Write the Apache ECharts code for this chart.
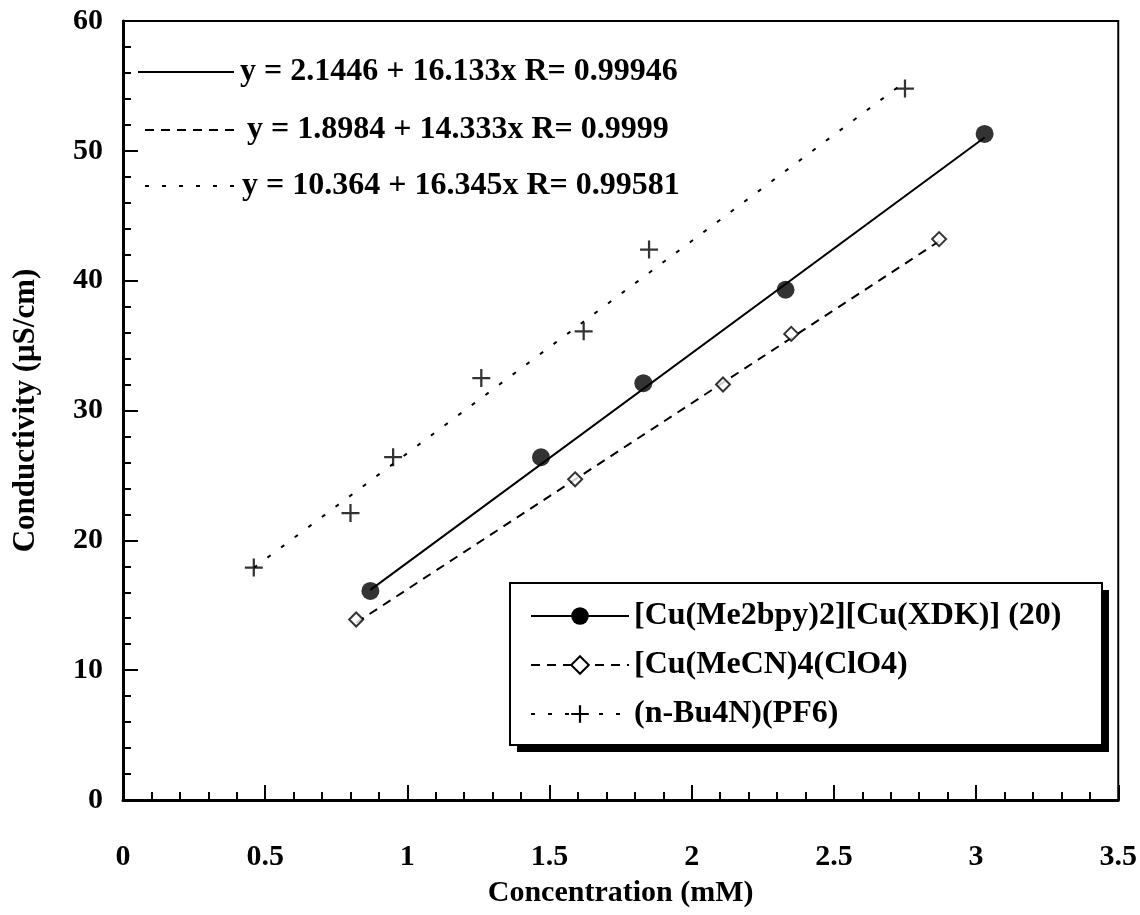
<!DOCTYPE html>
<html>
<head>
<meta charset="utf-8">
<script src="https://cdn.jsdelivr.net/npm/echarts@6/dist/echarts.min.js"></script>
<style>
html,body{margin:0;padding:0;background:#fff;}
#chart{width:1140px;height:915px;}
</style>
</head>
<body>
<div id="chart"></div>
<script>
// ---- data ----
const seriesNames = ['[Cu(Me2bpy)2][Cu(XDK)] (20)', '[Cu(MeCN)4(ClO4)', '(n-Bu4N)(PF6)'];
const conc1 = [0.87, 1.47, 1.83, 2.33, 3.03];
const cond1 = [16.1, 26.4, 32.1, 39.3, 51.3];
const conc2 = [0.82, 1.59, 2.11, 2.35, 2.87];
const cond2 = [13.9, 24.7, 32.0, 35.9, 43.2];
const conc3 = [0.46, 0.80, 0.95, 1.26, 1.62, 1.85, 2.75];
const cond3 = [17.9, 22.1, 26.4, 32.5, 36.1, 42.4, 54.8];
const fitIntercept = [2.1446, 1.8984, 10.364];
const fitSlope = [16.133, 14.333, 16.345];
const fitR = ['0.99946', '0.9999', '0.99581'];
const xAxisTitle = 'Concentration (mM)';
const yAxisTitle = 'Conductivity (μS/cm)';

const FONT = 'Liberation Serif';
const concs = [conc1, conc2, conc3];
const conds = [cond1, cond2, cond3];
const lineTypes = ['solid', [9, 7], [4, 13]];
const plusPath = 'path://M7,0h2v7h7v2h-7v7h-2v-7h-7v-2h7z';
const symbols = ['circle', 'diamond', plusPath];
const symbolSizes = [18, 14, 18];
const itemStyles = [
  {color: '#000'},
  {color: '#fff', borderColor: '#000', borderWidth: 2},
  {color: '#000'}
];

const series = [];
for (let i = 0; i < 3; i++) {
  const xs = concs[i];
  const x0 = Math.min.apply(null, xs), x1 = Math.max.apply(null, xs);
  // regression line as stated in the chart (y = a + b x), drawn over the data range
  series.push({
    name: seriesNames[i],
    type: 'line',
    data: [[x0, fitIntercept[i] + fitSlope[i] * x0], [x1, fitIntercept[i] + fitSlope[i] * x1]],
    showSymbol: false,
    symbol: symbols[i],
    symbolSize: symbolSizes[i],
    itemStyle: itemStyles[i],
    lineStyle: {color: '#000', width: 2, type: lineTypes[i]},
    silent: true,
    z: 2
  });
  series.push({
    name: 'pts' + i,
    type: 'scatter',
    data: xs.map((x, k) => [x, conds[i][k]]),
    symbol: symbols[i],
    symbolSize: symbolSizes[i],
    itemStyle: itemStyles[i],
    z: 3
  });
}

const graphics = [];
const eqRows = [72, 130, 186];
const eqLine = [[138, 234], [145, 241], [145, 236]];
for (let i = 0; i < 3; i++) {
  graphics.push({
    type: 'line',
    shape: {x1: eqLine[i][0], y1: eqRows[i], x2: eqLine[i][1], y2: eqRows[i]},
    style: {stroke: '#000', lineWidth: 2, lineDash: i === 0 ? null : lineTypes[i]},
    z: 10
  });
  graphics.push({
    type: 'text',
    x: eqLine[i][1] + 6,
    y: eqRows[i],
    style: {
      text: 'y = ' + fitIntercept[i] + ' + ' + fitSlope[i] + 'x R= ' + fitR[i],
      font: 'bold 32px "' + FONT + '"',
      fill: '#000',
      verticalAlign: 'middle'
    },
    z: 10
  });
}
// legend frame with drop shadow
graphics.push({type: 'rect', shape: {x: 517, y: 590, width: 592, height: 162}, style: {fill: '#000'}, z: 20});
graphics.push({type: 'rect', shape: {x: 510, y: 583, width: 592, height: 162}, style: {fill: '#fff', stroke: '#000', lineWidth: 2}, z: 21});

const chart = echarts.init(document.getElementById('chart'), null, {renderer: 'canvas'});
chart.setOption({
  animation: false,
  backgroundColor: '#fff',
  grid: {left: 123, right: 17, top: 21, bottom: 115, show: true, borderColor: '#000', borderWidth: 2, backgroundColor: 'transparent'},
  xAxis: {
    type: 'value', min: 0, max: 3.5, interval: 0.5,
    name: xAxisTitle, nameLocation: 'middle', nameGap: 78,
    nameTextStyle: {fontFamily: FONT, fontWeight: 'bold', fontSize: 30, color: '#000'},
    axisLine: {show: true, onZero: false, lineStyle: {color: '#000', width: 3}},
    axisTick: {show: true, inside: true, length: 15, lineStyle: {color: '#000', width: 2}},
    minorTick: {show: true, splitNumber: 5, length: 8, lineStyle: {color: '#000', width: 2}},
    splitLine: {show: false},
    axisLabel: {fontFamily: FONT, fontWeight: 'bold', fontSize: 30, color: '#000', margin: 42,
      formatter: v => String(v)}
  },
  yAxis: {
    type: 'value', min: 0, max: 60, interval: 10,
    name: yAxisTitle, nameLocation: 'middle', nameGap: 82,
    nameTextStyle: {fontFamily: FONT, fontWeight: 'bold', fontSize: 31, color: '#000'},
    axisLine: {show: true, onZero: false, lineStyle: {color: '#000', width: 3}},
    axisTick: {show: true, inside: true, length: 15, lineStyle: {color: '#000', width: 2}},
    minorTick: {show: true, splitNumber: 5, length: 8, lineStyle: {color: '#000', width: 2}},
    splitLine: {show: false},
    axisLabel: {fontFamily: FONT, fontWeight: 'bold', fontSize: 30, color: '#000', margin: 20}
  },
  legend: {
    show: true,
    z: 30,
    data: seriesNames,
    orient: 'vertical',
    left: 510, top: 583,
    padding: [17, 20, 13, 20],
    itemGap: 17,
    itemWidth: 98, itemHeight: 22,
    textStyle: {fontFamily: FONT, fontWeight: 'bold', fontSize: 32, color: '#000'},
    selectedMode: false
  },
  graphic: graphics,
  series: series
});
</script>
</body>
</html>
